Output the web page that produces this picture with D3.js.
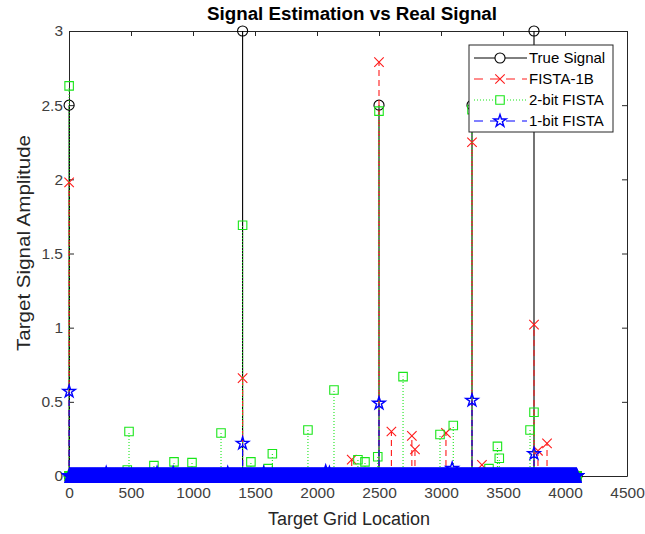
<!DOCTYPE html>
<html>
<head>
<meta charset="utf-8">
<script src="https://cdn.jsdelivr.net/npm/d3@7"></script>
<style>
  body { margin: 0; background: #fff; }
  svg { display: block; font-family: "Liberation Sans", Arial, sans-serif; }
</style>
</head>
<body>
<div id="chart"></div>
<script>
// Datos: rejilla de 4096 posiciones, solo se guardan los valores no nulos
const gridSize = 4096;
const xTicks = [0, 500, 1000, 1500, 2000, 2500, 3000, 3500, 4000, 4500];
const yTicks = [0, 0.5, 1, 1.5, 2, 2.5, 3];
const yTickLabels = ["0", "0.5", "1", "1.5", "2", "2.5", "3"];

const trueLoc = [1, 1400, 2500, 3250, 3750];
const trueVal = [2.5, 3, 2.5, 2.5, 3];

const fista1bLoc = [1, 1400, 2280, 2500, 2600, 2765, 2790, 3040, 3250, 3330, 3750, 3782, 3855];
const fista1bVal = [1.98, 0.66, 0.11, 2.79, 0.30, 0.27, 0.18, 0.29, 2.25, 0.075, 1.02, 0.17, 0.22];

const twoBitLoc = [1, 470, 484, 685, 847, 992, 1226, 1400, 1467, 1606, 1640, 1927, 2137, 2330, 2387, 2490, 2500, 2694, 2992, 3099, 3250, 3387, 3455, 3470, 3718, 3750];
const twoBitVal = [2.63, 0.04, 0.30, 0.07, 0.095, 0.09, 0.29, 1.69, 0.095, 0.05, 0.15, 0.31, 0.58, 0.11, 0.095, 0.13, 2.46, 0.67, 0.28, 0.34, 2.47, 0.05, 0.20, 0.12, 0.31, 0.43];

const oneBitLoc = [1, 300, 710, 840, 1280, 1400, 1570, 2070, 2100, 2500, 3090, 3250, 3750];
const oneBitVal = [0.57, 0.02, 0.02, 0.02, 0.02, 0.22, 0.02, 0.03, 0.02, 0.49, 0.05, 0.51, 0.15];

const seriesNames = ["True Signal", "FISTA-1B", "2-bit FISTA", "1-bit FISTA"];

// Tamaño y márgenes
const W = 645, H = 534;
const plot = {left: 69, right: 627, top: 31, bottom: 476};
const axisColor = "#262626";

const svg = d3.select("#chart").append("svg")
    .attr("width", W)
    .attr("height", H);

const x = d3.scaleLinear().domain([0, 4500]).range([plot.left, plot.right]);
const y = d3.scaleLinear().domain([0, 3]).range([plot.bottom, plot.top]);

const grid = d3.range(1, gridSize + 1);
function dense(loc, val) {
    const m = new Map(loc.map((l, i) => [l, val[i]]));
    return grid.map(g => ({x: g, v: m.get(g) || 0}));
}

const series = [
    {name: seriesNames[0], data: dense(trueLoc, trueVal), color: "#000000", dash: null,
     symbol: d3.symbolCircle, size: 80, sw: 1.1},
    {name: seriesNames[1], data: dense(fista1bLoc, fista1bVal), color: "#ff1a1a", dash: "6,4",
     symbol: d3.symbolX, size: 60, sw: 1.1},
    {name: seriesNames[2], data: dense(twoBitLoc, twoBitVal), color: "#19e619", dash: "1,2",
     symbol: d3.symbolSquare, size: 72, sw: 1.1},
    {name: seriesNames[3], data: dense(oneBitLoc, oneBitVal), color: "#0000ff", dash: "6,4",
     symbol: d3.symbolStar, size: 48, sw: 1.4}
];

// Ejes (caja completa con marcas hacia dentro)
function styleAxis(g) {
    g.select(".domain").attr("stroke", axisColor);
    g.selectAll(".tick line").attr("stroke", axisColor);
    g.selectAll(".tick text").attr("fill", "#404040").attr("font-size", 15.5);
}

svg.append("g")
    .attr("transform", `translate(0,${plot.bottom})`)
    .call(d3.axisBottom(x).tickValues(xTicks).tickFormat(d3.format("d"))
        .tickSizeInner(-5).tickSizeOuter(0).tickPadding(11))
    .call(styleAxis);

svg.append("g")
    .attr("transform", `translate(0,${plot.top})`)
    .call(d3.axisTop(x).tickValues(xTicks).tickFormat("")
        .tickSizeInner(-5).tickSizeOuter(0))
    .call(styleAxis);

svg.append("g")
    .attr("transform", `translate(${plot.left},0)`)
    .call(d3.axisLeft(y).tickValues(yTicks).tickFormat((d, i) => yTickLabels[i])
        .tickSizeInner(-5).tickSizeOuter(0).tickPadding(6))
    .call(styleAxis);

svg.append("g")
    .attr("transform", `translate(${plot.right},0)`)
    .call(d3.axisRight(y).tickValues(yTicks).tickFormat("")
        .tickSizeInner(-5).tickSizeOuter(0))
    .call(styleAxis);

// Tallos y marcadores de cada serie
series.forEach(s => {
    const g = svg.append("g");
    const nz = s.data.filter(d => d.v !== 0);
    g.selectAll("line")
        .data(nz)
        .join("line")
        .attr("x1", d => x(d.x))
        .attr("x2", d => x(d.x))
        .attr("y1", y(0))
        .attr("y2", d => y(d.v))
        .attr("stroke", s.color)
        .attr("stroke-width", 1.1)
        .attr("stroke-dasharray", s.dash);
    const shape = d3.symbol().type(s.symbol).size(s.size)();
    g.selectAll("path")
        .data(s.data)
        .join("path")
        .attr("d", shape)
        .attr("transform", d => `translate(${x(d.x)},${y(d.v)})`)
        .attr("fill", "none")
        .attr("stroke", s.color)
        .attr("stroke-width", s.sw);
});

// Textos
svg.append("text")
    .attr("x", 352)
    .attr("y", 20)
    .attr("text-anchor", "middle")
    .attr("font-size", 18)
    .attr("font-weight", "bold")
    .attr("fill", "#000")
    .attr("textLength", 290)
    .attr("lengthAdjust", "spacingAndGlyphs")
    .text("Signal Estimation vs Real Signal");

svg.append("text")
    .attr("x", 349)
    .attr("y", 525)
    .attr("text-anchor", "middle")
    .attr("font-size", 18)
    .attr("fill", "#262626")
    .text("Target Grid Location");

svg.append("text")
    .attr("transform", "translate(30,243) rotate(-90)")
    .attr("text-anchor", "middle")
    .attr("font-size", 19)
    .attr("fill", "#262626")
    .attr("textLength", 216)
    .attr("lengthAdjust", "spacingAndGlyphs")
    .text("Target Signal Amplitude");

// Leyenda
const legend = svg.append("g");
legend.append("rect")
    .attr("x", 469).attr("y", 45)
    .attr("width", 144).attr("height", 87)
    .attr("fill", "#fff")
    .attr("stroke", axisColor);

const rowY = [58, 79, 100, 121];
series.forEach((s, i) => {
    legend.append("line")
        .attr("x1", 474).attr("x2", 527)
        .attr("y1", rowY[i]).attr("y2", rowY[i])
        .attr("stroke", s.color)
        .attr("stroke-dasharray", s.dash ? (s.dash === "1,2" ? "1,2" : "9,7") : null);
    legend.append("path")
        .attr("d", d3.symbol().type(s.symbol).size(s.size)())
        .attr("transform", `translate(500,${rowY[i]})`)
        .attr("fill", "#fff")
        .attr("stroke", s.color)
        .attr("stroke-width", s.sw);
    legend.append("text")
        .attr("x", 529)
        .attr("y", rowY[i])
        .attr("dy", "0.35em")
        .attr("font-size", 15)
        .attr("fill", "#000")
        .text(s.name);
});
</script>
</body>
</html>
